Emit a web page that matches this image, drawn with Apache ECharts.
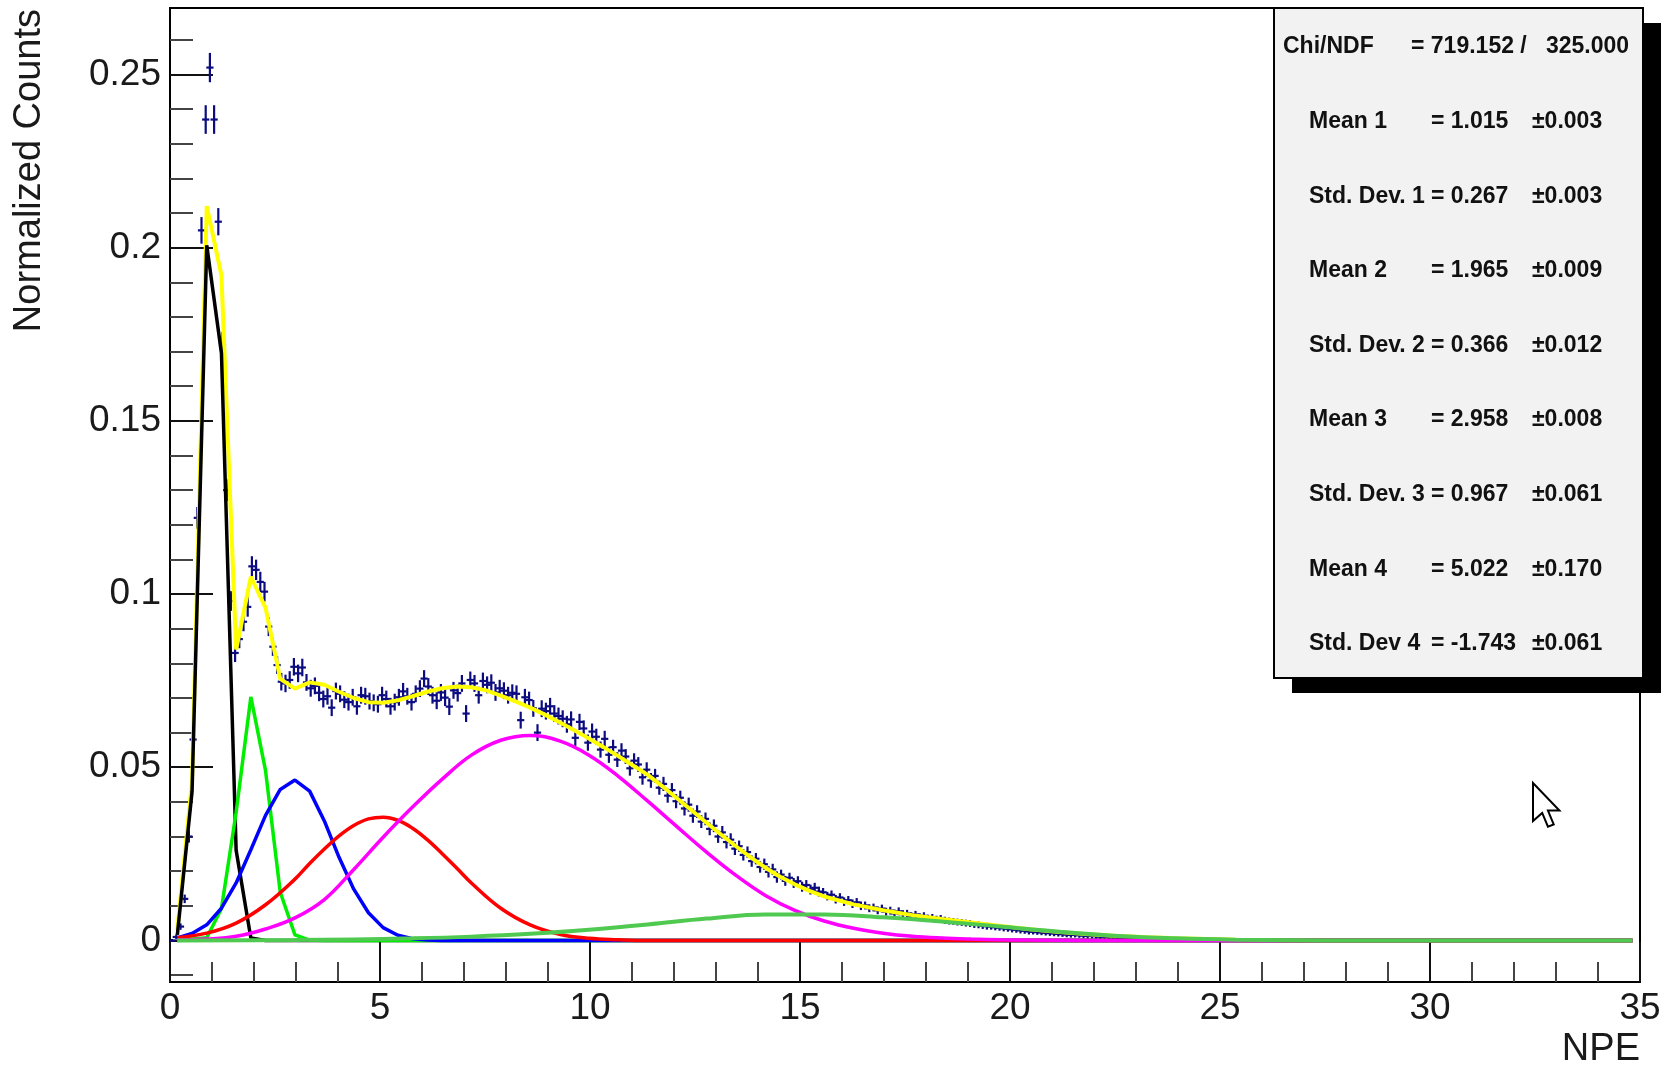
<!DOCTYPE html>
<html>
<head>
<meta charset="utf-8">
<title>NPE fit</title>
<script src="https://cdn.jsdelivr.net/npm/echarts@6.0.0/dist/echarts.min.js"></script>
<style>
html, body { margin: 0; padding: 0; background: #fff; }
#main { width: 1670px; height: 1074px; }
</style>
</head>
<body>
<div id="main"></div>
<script>
// histogram, 0.1 NPE bins starting at 0
var binLow = 0, binWidth = 0.1;
var counts = [
  0, 0.001, 0.004, 0.012, 0.03, 0.058, 0.122, 0.205, 0.237, 0.252,
  0.237, 0.2075, 0.172, 0.13, 0.098, 0.083, 0.087, 0.092, 0.0963, 0.108,
  0.107, 0.1035, 0.1007, 0.0906, 0.0848, 0.0795, 0.0747, 0.0742, 0.0752, 0.079,
  0.0771, 0.0788, 0.0745, 0.0728, 0.0735, 0.0715, 0.0697, 0.0705, 0.0672, 0.072,
  0.0712, 0.0695, 0.0688, 0.0702, 0.0676, 0.0708, 0.0705, 0.0691, 0.0686, 0.0682,
  0.0708, 0.0697, 0.0676, 0.0688, 0.0702, 0.0719, 0.0705, 0.0688, 0.0712, 0.0727,
  0.0756, 0.0733, 0.0708, 0.0692, 0.0716, 0.0701, 0.0675, 0.0722, 0.0714, 0.0742,
  0.0655, 0.0752, 0.0742, 0.0708, 0.0749, 0.0738, 0.0744, 0.0716, 0.0728, 0.0721,
  0.0708, 0.0715, 0.0712, 0.0636, 0.0702, 0.0694, 0.067, 0.06, 0.0669, 0.0662,
  0.0676, 0.0655, 0.0648, 0.064, 0.0624, 0.0638, 0.0585, 0.0631, 0.0612, 0.0571,
  0.0603, 0.0588, 0.0551, 0.0582, 0.0536, 0.0558, 0.0522, 0.0548, 0.0531, 0.0497,
  0.0519, 0.0508, 0.0471, 0.0493, 0.0462, 0.0475, 0.0441, 0.0452, 0.0418, 0.0434,
  0.0402, 0.0412, 0.0381, 0.0392, 0.036, 0.0372, 0.0343, 0.0351, 0.0322, 0.0331,
  0.03, 0.0312, 0.0284, 0.0291, 0.0265, 0.0272, 0.0247, 0.0255, 0.0229, 0.0236,
  0.0212, 0.022, 0.0198, 0.0205, 0.0183, 0.019, 0.0172, 0.0181, 0.0166, 0.0171,
  0.0155, 0.016, 0.0147, 0.0152, 0.0141, 0.0139, 0.0128, 0.0132, 0.0119, 0.0124,
  0.0112, 0.0116, 0.0106, 0.011, 0.01, 0.0101, 0.0093, 0.0095, 0.0087, 0.0092,
  0.0083, 0.0086, 0.0078, 0.0084, 0.0076, 0.0078, 0.0071, 0.0075, 0.0068, 0.0071,
  0.0064, 0.0066, 0.0061, 0.0063, 0.0058, 0.0056, 0.0055, 0.0053, 0.0052, 0.005,
  0.0049, 0.0046, 0.0045, 0.0043, 0.0041, 0.004, 0.0038, 0.0037, 0.0035, 0.0034,
  0.0032, 0.0031, 0.0029, 0.0028, 0.0026, 0.0025, 0.0024, 0.0023, 0.0022, 0.0021,
  0.002, 0.0019, 0.0018, 0.0017, 0.0016, 0.0016, 0.0015, 0.0014, 0.0013, 0.0013,
  0.0012, 0.0011, 0.0011, 0.001, 0.0009, 0.0009, 0.0008, 0.0008, 0.0007, 0.0007,
  0.0006, 0.0006, 0.0005, 0.0005, 0.0005, 0.0004, 0.0004, 0.0004, 0.0003, 0.0003,
  0.0003, 0.0003, 0.0002, 0.0002, 0.0002, 0.0002, 0.0002, 0.0001, 0.0001, 0.0001
];
var countErr = [
  0, 0.0003, 0.0005, 0.0008, 0.0013, 0.0018, 0.0027, 0.0034, 0.0037, 0.0038,
  0.0037, 0.0035, 0.0032, 0.0027, 0.0024, 0.0022, 0.0022, 0.0023, 0.0024, 0.0025,
  0.0025, 0.0025, 0.0024, 0.0023, 0.0022, 0.0021, 0.0021, 0.0021, 0.0021, 0.0021,
  0.0021, 0.0021, 0.002, 0.002, 0.002, 0.002, 0.002, 0.002, 0.002, 0.002,
  0.002, 0.002, 0.002, 0.002, 0.002, 0.002, 0.002, 0.002, 0.002, 0.002,
  0.002, 0.002, 0.002, 0.002, 0.002, 0.002, 0.002, 0.002, 0.002, 0.002,
  0.002, 0.002, 0.002, 0.002, 0.002, 0.002, 0.002, 0.002, 0.002, 0.002,
  0.002, 0.002, 0.002, 0.002, 0.002, 0.002, 0.002, 0.002, 0.002, 0.002,
  0.002, 0.002, 0.002, 0.002, 0.002, 0.002, 0.002, 0.002, 0.002, 0.002,
  0.002, 0.002, 0.002, 0.002, 0.002, 0.0019, 0.0019, 0.0019, 0.0019, 0.0019,
  0.0019, 0.0019, 0.0019, 0.0019, 0.0019, 0.0017, 0.0017, 0.0017, 0.0017, 0.0017,
  0.0017, 0.0017, 0.0017, 0.0017, 0.0017, 0.0016, 0.0016, 0.0016, 0.0016, 0.0016,
  0.0016, 0.0016, 0.0016, 0.0016, 0.0016, 0.0014, 0.0014, 0.0014, 0.0014, 0.0014,
  0.0014, 0.0014, 0.0014, 0.0014, 0.0014, 0.0012, 0.0012, 0.0012, 0.0012, 0.0012,
  0.0012, 0.0012, 0.0012, 0.0012, 0.0012, 0.001, 0.001, 0.001, 0.001, 0.001,
  0.001, 0.001, 0.001, 0.001, 0.001, 0.0008, 0.0008, 0.0008, 0.0008, 0.0008,
  0.0008, 0.0008, 0.0008, 0.0008, 0.0008, 0.0007, 0.0007, 0.0007, 0.0007, 0.0007,
  0.0007, 0.0007, 0.0007, 0.0007, 0.0007, 0.0006, 0.0006, 0.0006, 0.0006, 0.0006,
  0.0006, 0.0006, 0.0006, 0.0006, 0.0006, 0.00055, 0.00055, 0.00055, 0.00055, 0.00055,
  0.00055, 0.00055, 0.00055, 0.00055, 0.00055, 0.00045, 0.00045, 0.00045, 0.00045, 0.00045,
  0.00045, 0.00045, 0.00045, 0.00045, 0.00045, 0.00035, 0.00035, 0.00035, 0.00035, 0.00035,
  0.00035, 0.00035, 0.00035, 0.00035, 0.00035, 0.0003, 0.0003, 0.0003, 0.0003, 0.0003,
  0.0003, 0.0003, 0.0003, 0.0003, 0.0003, 0.00022, 0.00022, 0.00022, 0.00022, 0.00022,
  0.00022, 0.00022, 0.00022, 0.00022, 0.00022, 0.00015, 0.00015, 0.00015, 0.00015, 0.00015,
  0.00015, 0.00015, 0.00015, 0.00015, 0.00015, 0.0001, 0.0001, 0.0001, 0.0001, 0.0001
];

// fitted curves [NPE, value]
var totalFit = [[0.175,0.003],[0.525,0.046],[0.875,0.212],[1.225,0.192],[1.575,0.084],[1.925,0.105],
  [2.275,0.096],[2.625,0.0755],[2.975,0.0727],[3.325,0.0745],[3.675,0.0738],[4.025,0.0718],
  [4.375,0.07],[4.725,0.0688],[5.075,0.0686],[5.425,0.0693],[5.775,0.0705],[6.125,0.0718],
  [6.475,0.0728],[6.825,0.0733],[7.175,0.0731],[7.525,0.0722],[7.875,0.0707],[8.225,0.069],
  [8.575,0.0672],[8.925,0.0652],[9.275,0.063],[9.625,0.0607],[9.975,0.0583],[10.325,0.0558],
  [10.675,0.0532],[11.025,0.0505],[11.375,0.0478],[11.725,0.0445],[12.075,0.041],[12.425,0.0375],
  [12.775,0.034],[13.125,0.0305],[13.475,0.0272],[13.825,0.024],[14.175,0.021],[14.525,0.0184],
  [14.875,0.0162],[15.225,0.0143],[15.575,0.0127],[16.275,0.0104],[16.975,0.0087],[17.675,0.0073],
  [18.375,0.0062],[19.075,0.0052],[19.775,0.0042],[20.475,0.0032],[21.175,0.0024],[21.875,0.0018],
  [22.575,0.0013],[23.275,0.0009],[23.975,0.0006],[24.675,0.0004],[25.375,0.0002],[26.075,0.0001],
  [26.775,0],[34.825,0]];
var gaus1 = [[0.175,0.0016],[0.525,0.043],[0.875,0.2007],[1.225,0.1695],[1.575,0.026],[1.925,0.0007],
  [2.275,0],[34.825,0]];
var gaus2 = [[0.175,0],[0.875,0.0008],[1.225,0.0092],[1.575,0.037],[1.925,0.0703],[2.275,0.049],
  [2.625,0.0139],[2.975,0.0016],[3.325,0.0001],[3.675,0],[34.825,0]];
var gaus3 = [[0.175,0.0007],[0.525,0.002],[0.875,0.0045],[1.225,0.0093],[1.575,0.0166],[1.925,0.0262],
  [2.275,0.0361],[2.625,0.0436],[2.975,0.0463],[3.325,0.0431],[3.675,0.0345],[4.025,0.024],
  [4.375,0.0148],[4.725,0.008],[5.075,0.0037],[5.425,0.0015],[5.775,0.0005],[6.125,0.0001],
  [6.475,0],[34.825,0]];
var gaus4 = [[0.175,0.0008],[0.875,0.0021],[1.575,0.005],[2.275,0.0103],[2.975,0.0177],[3.325,0.0222],
  [3.675,0.0264],[4.025,0.0302],[4.375,0.0332],[4.725,0.0351],[5.075,0.0356],[5.425,0.0347],
  [5.775,0.0324],[6.125,0.0291],[6.475,0.0251],[6.825,0.0209],[7.175,0.0166],[7.875,0.0093],
  [8.575,0.0045],[9.275,0.0018],[9.975,0.0006],[10.675,0.0002],[11.375,0],[34.825,0]];
var gaus5 = [[0.175,0.0001],[0.875,0.0004],[1.575,0.0012],[2.275,0.0033],[2.975,0.0065],[3.675,0.0118],
  [4.375,0.0205],[5.075,0.0298],[5.775,0.0385],[6.475,0.0465],[7.175,0.0535],[7.875,0.0578],
  [8.575,0.0592],[9.275,0.0576],[9.975,0.0535],[10.675,0.0474],[11.375,0.0402],[12.075,0.0328],
  [12.775,0.0255],[13.475,0.0188],[14.175,0.013],[14.875,0.0087],[15.575,0.0056],[16.275,0.0035],
  [16.975,0.0021],[17.675,0.0012],[18.375,0.0007],[19.075,0.0004],[19.775,0.0002],[20.475,0.0001],
  [21.875,0],[34.825,0]];
var gaus6 = [[0.175,0],[2.975,0.0001],[4.375,0.0003],[5.775,0.0006],[7.175,0.0011],[8.575,0.0019],
  [9.975,0.0031],[11.375,0.0046],[12.775,0.0063],[14.175,0.0075],[15.575,0.0075],[16.975,0.0067],
  [18.375,0.0055],[19.775,0.004],[21.175,0.0025],[22.575,0.0013],[23.975,0.0006],[25.375,0.0002],
  [26.775,0.00005],[28.175,0],[34.825,0]];

var yTicks = [0, 0.05, 0.1, 0.15, 0.2, 0.25];
var yMinorTicks = [-0.01, 0.01, 0.02, 0.03, 0.04, 0.06, 0.07, 0.08, 0.09, 0.11, 0.12, 0.13, 0.14,
  0.16, 0.17, 0.18, 0.19, 0.21, 0.22, 0.23, 0.24, 0.26];

var statNames = ['Chi/NDF', 'Mean 1', 'Std. Dev. 1', 'Mean 2', 'Std. Dev. 2', 'Mean 3', 'Std. Dev. 3', 'Mean 4', 'Std. Dev 4'];
var statValues = ['= 719.152 /   325.000', '= 1.015', '= 0.267', '= 1.965', '= 0.366', '= 2.958', '= 0.967', '= 5.022', '= -1.743'];
var statErrors = ['', '\u00b10.003', '\u00b10.003', '\u00b10.009', '\u00b10.012', '\u00b10.008', '\u00b10.061', '\u00b10.170', '\u00b10.061'];

var myChart = echarts.init(document.getElementById('main'));

var histData = counts.map(function (c, i) {
  return [binLow + (i + 0.5) * binWidth, c, countErr[i]];
});

var FONT = '"Liberation Sans", Arial, Helvetica, sans-serif';
var markColor = '#0c0c80';

function fitLine(name, data, color, width, z, extra) {
  var s = {
    name: name, type: 'line', data: data, showSymbol: false, symbol: 'none',
    lineStyle: { color: color, width: width }, z: z, silent: true
  };
  if (extra) { for (var k in extra) s[k] = extra[k]; }
  return s;
}

// stats box
var box = { x: 1274, y: 8, w: 369, h: 670 };
var graphics = [
  { type: 'rect', z: 50, shape: { x: box.x + 18, y: box.y + 15, width: box.w, height: box.h }, style: { fill: '#000' } },
  { type: 'rect', z: 51, shape: { x: box.x, y: box.y, width: box.w, height: box.h }, style: { fill: '#f2f2f2', stroke: '#000', lineWidth: 2 } }
];
statNames.forEach(function (nm, i) {
  var y = 47 + i * 74.6;
  var txt = function (x, t) {
    return { type: 'text', z: 52, x: x, y: y,
      style: { text: t, font: 'bold 23px ' + FONT, fill: '#111', align: 'left', verticalAlign: 'middle',
               textAlign: 'left', textVerticalAlign: 'middle' } };
  };
  graphics.push(txt(i === 0 ? 1283 : 1309, nm));
  graphics.push(txt(i === 0 ? 1411 : 1431, statValues[i]));
  if (statErrors[i]) graphics.push(txt(1532, statErrors[i]));
});
// axis titles
graphics.push({ type: 'text', z: 52, x: 30, y: 9, rotation: Math.PI / 2,
  style: { text: 'Normalized Counts', font: '38px ' + FONT, fill: '#1a1a1a', align: 'right', verticalAlign: 'middle',
           textAlign: 'right', textVerticalAlign: 'middle' } });
graphics.push({ type: 'text', z: 52, x: 1640, y: 1031,
  style: { text: 'NPE', font: '38px ' + FONT, fill: '#1a1a1a', align: 'right', verticalAlign: 'top',
           textAlign: 'right', textVerticalAlign: 'top' } });
// mouse pointer from the screenshot
var arrow = [[0, 0], [0, 33], [8, 26], [13, 38], [18, 36], [13, 24], [23, 24]];
graphics.push({ type: 'polygon', z: 52,
  shape: { points: arrow.map(function (p) { return [1533 + p[0] * 1.15, 783 + p[1] * 1.15]; }) },
  style: { fill: '#fff', stroke: '#000', lineWidth: 2 } });

var smoothOpt = { smooth: 0.4 };

var option = {
  backgroundColor: '#fff',
  animation: false,
  grid: { left: 170, right: 30, top: 8, bottom: 92, show: true, borderColor: '#000', borderWidth: 2,
          containLabel: false, outerBoundsMode: 'none' },
  xAxis: {
    type: 'value', min: 0, max: 35, interval: 5,
    axisLine: { onZero: false, lineStyle: { color: '#000', width: 2 } },
    axisTick: { inside: true, length: 40, lineStyle: { color: '#111', width: 2 } },
    minorTick: { show: true, splitNumber: 5, length: 20, lineStyle: { color: '#444', width: 2 } },
    splitLine: { show: false },
    axisLabel: { fontSize: 37, fontFamily: FONT, color: '#1a1a1a', margin: 8, showMinLabel: true, showMaxLabel: true }
  },
  yAxis: [{
    type: 'value', min: -0.012, max: 0.2692,
    axisLine: { show: true, onZero: false, lineStyle: { color: '#000', width: 2 } },
    axisTick: { show: true, inside: true, length: 43, customValues: yTicks, lineStyle: { color: '#111', width: 2 } },
    axisLabel: { customValues: yTicks, fontSize: 37, fontFamily: FONT, color: '#1a1a1a', margin: 9 },
    splitLine: { show: false }
  }, {
    type: 'value', min: -0.012, max: 0.2692, position: 'left',
    axisLine: { show: false, onZero: false },
    axisTick: { show: true, inside: true, length: 23, customValues: yMinorTicks, lineStyle: { color: '#444', width: 2 } },
    axisLabel: { show: false },
    splitLine: { show: false }
  }],
  graphic: graphics,
  series: [
    {
      name: 'data', type: 'custom', data: histData, z: 2, clip: true, silent: true,
      encode: { x: 0, y: 1 },
      renderItem: function (params, api) {
        var x = api.value(0), y = api.value(1), e = api.value(2);
        var c = api.coord([x, y]);
        var t = api.coord([x, y + e]);
        var b = api.coord([x, y - e]);
        var l = api.coord([x - binWidth / 2, y]);
        var r = api.coord([x + binWidth / 2, y]);
        var st = { stroke: markColor, lineWidth: 2.2 };
        return { type: 'group', children: [
          { type: 'line', shape: { x1: c[0], y1: t[1] - 1.5, x2: c[0], y2: b[1] + 1.5 }, style: st },
          { type: 'line', shape: { x1: l[0] - 1.5, y1: c[1], x2: r[0] + 1.5, y2: c[1] }, style: st }
        ] };
      }
    },
    fitLine('total', totalFit, '#ffff00', 4, 3),
    fitLine('gaus1', gaus1, '#000000', 3.5, 4),
    fitLine('gaus2', gaus2, '#00ee00', 3.5, 4),
    fitLine('gaus3', gaus3, '#0000ff', 3.5, 4),
    fitLine('gaus4', gaus4, '#ff0000', 3.5, 4, smoothOpt),
    fitLine('gaus5', gaus5, '#ff00ff', 3.5, 4, smoothOpt),
    fitLine('gaus6', gaus6, '#4fc94f', 4, 4, smoothOpt)
  ]
};
myChart.setOption(option);
</script>
</body>
</html>
